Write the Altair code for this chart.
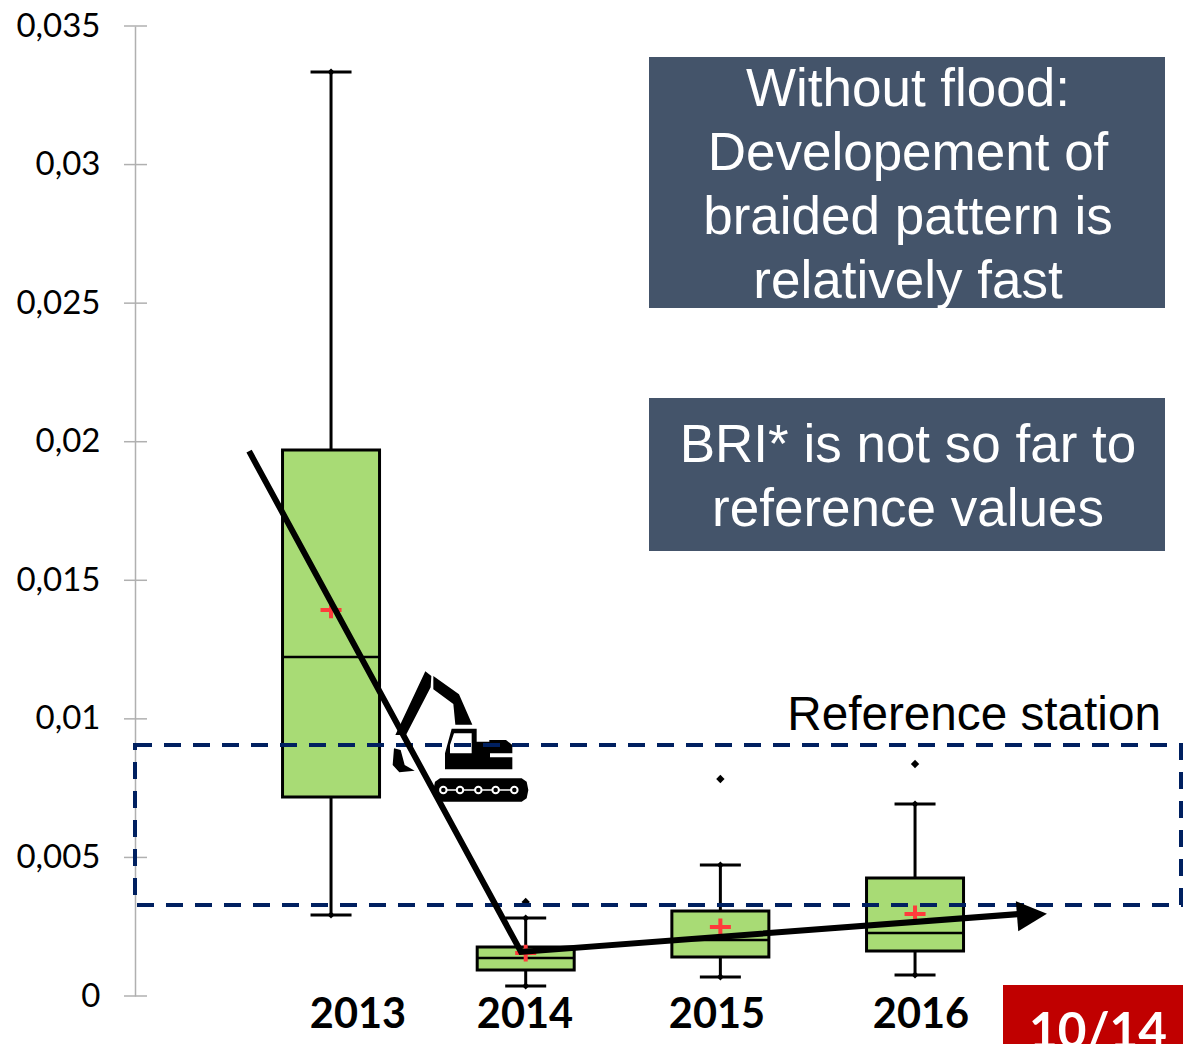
import altair as alt
import pandas as pd

YEARS = [2013, 2014, 2015, 2016]
Q1 = [0.00718, 0.00094, 0.00141, 0.00162]
Q3 = [0.0197, 0.00177, 0.00307, 0.00426]
MEDIAN = [0.01223, 0.00137, 0.00202, 0.00227]
MEAN = [0.01393, 0.00155, 0.00249, 0.00296]
WHISK_LOW = [0.00292, 0.00036, 0.00069, 0.00076]
WHISK_HIGH = [0.03334, 0.00281, 0.00473, 0.00693]
OUT_YEARS = [2014, 2015, 2016]
OUT_VALUES = [0.00339, 0.00783, 0.00837]
TREND_X = [2012.579, 2013.976, 2016.54]
TREND_Y = [0.01966, 0.00159, 0.00296]
REF_LOW, REF_HIGH = 0.003284, 0.009057
Y_TICKS = [0, 0.005, 0.01, 0.015, 0.02, 0.025, 0.03, 0.035]
YEAR_LABELS = ["2013", "2014", "2015", "2016"]

boxes = pd.DataFrame(dict(year=YEARS, q1=Q1, q3=Q3, med=MEDIAN, mean=MEAN, lo=WHISK_LOW, hi=WHISK_HIGH))
outliers = pd.DataFrame(dict(year=OUT_YEARS, v=OUT_VALUES))
trend = pd.DataFrame(dict(x=TREND_X, y=TREND_Y, o=[0, 1, 2]))
one = alt.Data(values=[{"a": 1}])

L, T = 135, 26
xs = alt.Scale(domain=[2011.993, 2017.3765], nice=False, zero=False, padding=0)
ys = alt.Scale(domain=[0, 0.035], nice=False, zero=False)
X = alt.X("year:Q", scale=xs, axis=None)
YAXIS = alt.Axis(
    values=Y_TICKS, title=None, grid=False, ticks=False, labelFont="Lato", labelFontSize=33,
    labelColor="black", labelPadding=35, domainColor="#B0B0B0", domainWidth=1.5, labelBound=False,
    labelFlush=False, labelOverlap=False,
    labelExpr="replace(format(datum.value,'.3~f'),'.',',')")
Y = lambda f: alt.Y(f + ":Q", scale=ys, axis=YAXIS)

NAVY, SLATE, GREEN, RED, DARKRED = "#002060", "#44546A", "#A8DB75", "#FF3B3B", "#C00000"


def box_rect(x0, y0, x1, y1, color):
    return alt.Chart(one).mark_rect(color=color).encode(
        x=alt.value(x0 - L), x2=alt.value(x1 - L), y=alt.value(y0 - T), y2=alt.value(y1 - T))


def label(txt, px, py, size, color="black", font="Liberation Sans", weight="normal", align="center"):
    return alt.Chart(one).mark_text(
        text=txt, font=font, fontSize=size, fontWeight=weight, color=color, align=align, baseline="alphabetic"
    ).encode(x=alt.value(px - L), y=alt.value(py - T))


ticks = alt.Chart(pd.DataFrame(dict(t=Y_TICKS))).mark_rule(stroke="#B0B0B0", strokeWidth=1.5).encode(
    x=alt.value(-11), x2=alt.value(12), y=Y("t"))

# box plots
base = alt.Chart(boxes)
whisk = base.mark_rule(color="black", strokeWidth=3).encode(x=X, y=Y("lo"), y2="hi:Q")
rects = base.mark_bar(size=97, color=GREEN, stroke="black", strokeWidth=3).encode(x=X, y=Y("q1"), y2="q3:Q")
meds = base.mark_tick(size=97, thickness=2.5, orient="horizontal", color="black", opacity=1).encode(x=X, y=Y("med"))
caps_lo = base.mark_tick(size=41, thickness=3, orient="horizontal", color="black", opacity=1).encode(x=X, y=Y("lo"))
caps_hi = base.mark_tick(size=41, thickness=3, orient="horizontal", color="black", opacity=1).encode(x=X, y=Y("hi"))
dot_lo = base.mark_point(shape="diamond", filled=True, color="black", size=50, opacity=1).encode(x=X, y=Y("lo"))
dot_hi = base.mark_point(shape="diamond", filled=True, color="black", size=50, opacity=1).encode(x=X, y=Y("hi"))
outs = alt.Chart(outliers).mark_point(shape="diamond", filled=True, color="black", size=70, opacity=1).encode(x=X, y=Y("v"))
means = base.mark_point(shape="M-1,0H1M0,-0.8V0.8", filled=False, color=RED, strokeWidth=4, size=441, opacity=1).encode(
    x=X, y=Y("mean"))


# excavator icon (outline traced in a local unit square)
def poly(pts):
    return "M" + "L".join(f"{(x - 245) / 100:.3f},{(y - 235) / 100:.3f}" for x, y in pts) + "Z"


ARM = [(136, 34), (154, 48), (152, 82), (78, 225), (46, 225)]
BUCKET = [(42, 265), (38, 315), (58, 337), (104, 332), (74, 315), (62, 270)]
BOOM = [(160, 48), (237, 103), (277, 194), (226, 194), (220, 132), (160, 88)]
CAB = [(215, 206), (290, 206), (290, 245), (328, 245), (328, 240), (378, 240), (397, 255), (397, 280), (330, 280),
       (330, 292), (397, 292), (397, 328), (195, 328), (195, 280)]
WINDOW = [(222, 220), (210, 255), (210, 280), (275, 280), (275, 220)]
TREAD = [(180, 355), (425, 355), (440, 365), (445, 390), (440, 415), (425, 425), (180, 425), (165, 415), (160, 390),
         (165, 365)]
CHAIN = [(190, 388), (403, 388), (403, 392), (190, 392)]
icon_dark = "".join(poly(p) for p in [ARM, BUCKET, BOOM, CAB, WINDOW, TREAD])
SZ = (200 / 3) ** 2
ICON_X, ICON_Y = 461.67 - L, 738.33 - T
icon = alt.Chart(one).mark_point(shape=icon_dark, filled=True, color="black", size=SZ, opacity=1).encode(
    x=alt.value(ICON_X), y=alt.value(ICON_Y))
chain = alt.Chart(one).mark_point(shape=poly(CHAIN), filled=True, color="white", size=SZ, opacity=1).encode(
    x=alt.value(ICON_X), y=alt.value(ICON_Y))
wheels = [
    alt.Chart(one).mark_point(shape="circle", fill="black", stroke="white", strokeWidth=2, size=42, opacity=1).encode(
        x=alt.value(380 + wx / 3 - L), y=alt.value(660 + 390 / 3 - T))
    for wx in (190, 240, 295, 347, 403)
]

# reference frame
ref = alt.Chart(alt.Data(values=[{"lo": REF_LOW, "hi": REF_HIGH}])).mark_rect(
    fillOpacity=0, stroke=NAVY, strokeWidth=4, strokeDash=[17, 12]
).encode(x=alt.value(0), x2=alt.value(1046), y=Y("lo"), y2="hi:Q")

# trend arrow
tr = alt.Chart(trend).mark_line(color="black", strokeWidth=6, strokeJoin="miter").encode(
    x=alt.X("x:Q", scale=xs, axis=None), y=Y("y"), order="o:Q")
head = alt.Chart(trend.iloc[[2]]).mark_point(
    shape="M-1,-1L1,0L-1,1Z", filled=True, color="black", size=900, angle=355.4, opacity=1
).encode(x=alt.value(1032 - L), y=alt.value(915 - T))

year_labels = [label(t, px, 1028, 41.5, font="Lato", weight="bold") for t, px in zip(YEAR_LABELS, (358, 525, 717, 921))]

annots = [
    box_rect(649, 57, 1165, 308, SLATE),
    box_rect(649, 398, 1165, 551, SLATE),
    label("Without flood:", 908, 106, 53, "white"),
    label("Developement of", 908, 170, 53, "white"),
    label("braided pattern is", 908, 234, 53, "white"),
    label("relatively fast", 908, 298, 53, "white"),
    label("BRI* is not so far to", 908, 462, 53, "white"),
    label("reference values", 908, 526, 53, "white"),
    label("Reference station", 1161, 730, 47.7, align="right"),
    box_rect(1003, 985, 1191, 1100, DARKRED),
    label("10/14", 1098, 1048, 49.5, "white", font="Lato", weight="bold"),
]

chart = alt.layer(
    ticks, whisk, rects, meds, caps_lo, caps_hi, dot_lo, dot_hi, outs, means,
    icon, chain, *wheels, ref, tr, head, *year_labels, *annots,
).properties(
    width=1048, height=970,
    padding={"left": L - 8, "top": T - 8, "right": 0, "bottom": 48},
    autosize=alt.AutoSizeParams(type="none"),
).configure_view(stroke=None)

chart.save("out.html", embed_options={"renderer": "svg", "actions": False})
